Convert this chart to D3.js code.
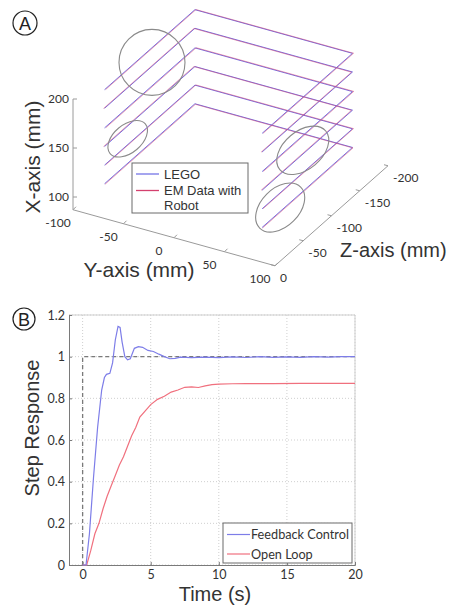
<!DOCTYPE html>
<html lang="en">
<head>
  <meta charset="UTF-8">
  <script src="https://d3js.org/d3.v7.min.js"></script>
  <title>LEGO vs EM tracking and step response</title>
  <style>
    body { margin: 0; background: #fff; }
  </style>
</head>
<body>
  <svg id="chart" width="449" height="607"></svg>
  <script>
    // ---- panel A : 3D paths (mm) ----
    const layerX = [199, 180, 160, 141, 122, 103];      // height of each traced layer
    const legoY = [-85, 71];                             // near / far Y of the U path
    const legoZ = [-29, -189];                           // near / far Z of the U path
    const emShiftY = [0.7, -0.6, 0.8, -0.7, 0.6, 0.8];   // EM deviation from LEGO
    const emShiftZ = [-0.6, 0.7, -0.8, 0.5, -0.7, 0.6];
    const xTicksA = [100, 150, 200];
    const yTicksA = [-100, -50, 0, 50, 100];
    const zTicksA = [0, -50, -100, -150, -200];
    // circled regions (Y, Z, X in mm)
    const marks = [
      { y: -85, z: -113, x: 184, rx: 33, ry: 33, rot: 0 },
      { y: -85, z: -70, x: 128, rx: 23, ry: 14, rot: -40 },
      { y: 71, z: -101, x: 145, rx: 30, ry: 19, rot: -40 },
      { y: 71, z: -61, x: 107, rx: 29, ry: 19, rot: -45 }
    ];

    // ---- panel B : step response ----
    const fbTime = [0, 0.25, 0.5, 0.8, 1.1, 1.4, 1.6, 1.75, 2.0, 2.2, 2.4, 2.6, 2.75, 2.9, 3.1, 3.3, 3.5, 3.8, 4.1, 4.4, 4.8, 5.2, 5.6, 6.0, 6.4, 6.8, 7.2, 8, 9, 10, 11, 12, 13, 14, 15, 16, 17, 18, 19, 20];
    const fbValue = [0, 0, 0.15, 0.42, 0.66, 0.84, 0.9, 0.915, 0.92, 0.97, 1.08, 1.145, 1.14, 1.07, 1.0, 0.985, 0.99, 1.04, 1.048, 1.045, 1.03, 1.025, 1.012, 1.0, 0.99, 0.992, 0.998, 0.995, 0.998, 0.995, 0.999, 0.996, 1.0, 0.997, 0.999, 0.997, 1.0, 0.998, 1.0, 1.0];
    const olTime = [0, 0.3, 0.6, 0.9, 1.2, 1.5, 1.8, 2.1, 2.4, 2.7, 3.0, 3.3, 3.6, 3.9, 4.2, 4.6, 5.0, 5.5, 6.0, 6.5, 7.0, 7.5, 8.0, 8.5, 9.0, 9.5, 10, 11, 12, 14, 16, 18, 20];
    const olValue = [0, 0, 0.07, 0.15, 0.2, 0.27, 0.33, 0.38, 0.43, 0.48, 0.52, 0.57, 0.62, 0.66, 0.71, 0.74, 0.77, 0.795, 0.81, 0.83, 0.84, 0.853, 0.855, 0.852, 0.86, 0.866, 0.868, 0.87, 0.871, 0.871, 0.872, 0.872, 0.872];
    const refTime = [0, 0, 20];
    const refValue = [0, 1, 1];
    const timeTicks = [0, 5, 10, 15, 20];
    const respTicks = [0, 0.2, 0.4, 0.6, 0.8, 1, 1.2];

    const legoColor = '#7474e6';
    const emColor = '#d4406e';
    const fbColor = '#7d7de8';
    const olColor = '#f0707e';
    const titleFont = '"Liberation Sans", Arial, sans-serif';
    const tickFont = 'Lato, "Open Sans", sans-serif';

    const svg = d3.select('#chart');

    // ============ Panel A ============
    const yS = d3.scaleLinear().domain([-100, 100]).range([0, 1]);
    const zS = d3.scaleLinear().domain([0, -200]).range([0, 1]);
    const hS = d3.scaleLinear().domain([100, 200]).range([-13, -111]);
    const origin = [73, 210], vY = [202, 56], vZ = [113, -100];
    const proj = (y, z, x) => {
      const a = yS(y), b = zS(z);
      return [origin[0] + a * vY[0] + b * vZ[0], origin[1] + a * vY[1] + b * vZ[1] + hS(x)];
    };

    const gA = svg.append('g');
    const axisCol = '#9a9a9a';
    const seg = (p, q) => gA.append('line')
      .attr('x1', p[0]).attr('y1', p[1]).attr('x2', q[0]).attr('y2', q[1])
      .attr('stroke', axisCol).attr('stroke-width', 1);

    seg(proj(-100, 0, 87), proj(-100, 0, 200));
    seg(proj(-100, 0, 87), proj(100, 0, 87));
    seg(proj(100, 0, 87), proj(100, -200, 87));

    xTicksA.forEach(v => {
      const p = proj(-100, 0, v);
      seg(p, [p[0] + 4, p[1]]);
      gA.append('text').attr('x', p[0] - 4).attr('y', p[1] + 4)
        .attr('text-anchor', 'end').attr('font-family', tickFont).attr('font-size', 12)
        .attr('fill', '#333').text(v);
    });
    yTicksA.forEach(v => {
      const p = proj(v, 0, 87);
      seg(p, [p[0] + 3, p[1] - 3]);
      gA.append('text').attr('x', p[0] - 15).attr('y', p[1] + 17)
        .attr('text-anchor', 'middle').attr('font-family', tickFont).attr('font-size', 12)
        .attr('fill', '#333').text(v);
    });
    zTicksA.forEach(v => {
      const p = proj(100, v, 87);
      seg(p, [p[0] - 4, p[1] - 1]);
      gA.append('text').attr('x', p[0] + 5).attr('y', p[1] + 16)
        .attr('text-anchor', 'start').attr('font-family', tickFont).attr('font-size', 12)
        .attr('fill', '#333').text(v);
    });

    const uPath = (x, dy, dz) => [
      proj(legoY[0] + dy, legoZ[0] + dz, x),
      proj(legoY[0] + dy, legoZ[1] + dz, x),
      proj(legoY[1] + dy, legoZ[1] + dz, x),
      proj(legoY[1] + dy, legoZ[0] + dz, x)
    ];
    const line3 = d3.line();

    gA.selectAll('path.lego').data(layerX).enter().append('path')
      .attr('class', 'lego')
      .attr('d', x => line3(uPath(x, 0, 0)))
      .attr('fill', 'none').attr('stroke', legoColor).attr('stroke-width', 1);
    gA.selectAll('path.em').data(layerX).enter().append('path')
      .attr('class', 'em')
      .attr('d', (x, i) => line3(uPath(x, emShiftY[i], emShiftZ[i])))
      .attr('fill', 'none').attr('stroke', emColor).attr('stroke-width', 1)
      .attr('stroke-opacity', 0.5);

    marks.forEach(m => {
      const c = proj(m.y, m.z, m.x);
      gA.append('ellipse').attr('cx', 0).attr('cy', 0).attr('rx', m.rx).attr('ry', m.ry)
        .attr('transform', `translate(${c[0]},${c[1]}) rotate(${m.rot})`)
        .attr('fill', 'none').attr('stroke', '#8a8a8a').attr('stroke-width', 1.1);
    });

    // legend A
    const lgA = gA.append('g').attr('transform', 'translate(132,163)');
    lgA.append('rect').attr('width', 116).attr('height', 50)
      .attr('fill', '#fff').attr('stroke', '#6a6a6a').attr('stroke-width', 1);
    [['LEGO', legoColor, 11], ['EM Data with', emColor, 27.5]].forEach(([t, c, y]) => {
      lgA.append('line').attr('x1', 4).attr('x2', 27).attr('y1', y).attr('y2', y)
        .attr('stroke', c).attr('stroke-width', 1.3);
      lgA.append('text').attr('x', 32).attr('y', y + 4.5).attr('font-family', titleFont)
        .attr('font-size', 13).attr('fill', '#333').text(t);
    });
    lgA.append('text').attr('x', 32).attr('y', 47).attr('font-family', titleFont)
      .attr('font-size', 13).attr('fill', '#333').text('Robot');

    // axis titles A
    gA.append('text').attr('transform', 'translate(40,157) rotate(-90)')
      .attr('text-anchor', 'middle').attr('font-family', titleFont).attr('font-size', 21)
      .attr('fill', '#333').text('X-axis (mm)');
    gA.append('text').attr('x', 139).attr('y', 277)
      .attr('text-anchor', 'middle').attr('font-family', titleFont).attr('font-size', 21)
      .attr('fill', '#333').text('Y-axis (mm)');
    gA.append('text').attr('x', 340).attr('y', 257)
      .attr('font-family', titleFont).attr('font-size', 20)
      .attr('fill', '#333').text('Z-axis (mm)');

    // ============ Panel B ============
    const xB = d3.scaleLinear().domain([-1, 20]).range([69, 355]);
    const yB = d3.scaleLinear().domain([0, 1.2]).range([565, 315]);
    const gB = svg.append('g');

    gB.selectAll('line.vgrid').data(timeTicks).enter().append('line')
      .attr('x1', d => xB(d)).attr('x2', d => xB(d)).attr('y1', yB(0)).attr('y2', yB(1.2))
      .attr('stroke', '#cfcfcf').attr('stroke-dasharray', '1,2');
    gB.selectAll('line.hgrid').data(respTicks).enter().append('line')
      .attr('x1', xB(-1)).attr('x2', xB(20)).attr('y1', d => yB(d)).attr('y2', d => yB(d))
      .attr('stroke', '#cfcfcf').attr('stroke-dasharray', '1,2');

    // box
    gB.append('path')
      .attr('d', `M${xB(-1)},${yB(1.2)}H${xB(20)}V${yB(0)}`)
      .attr('fill', 'none').attr('stroke', '#cfcfcf');

    const axL = gB.append('g').attr('transform', `translate(${xB(-1)},0)`)
      .call(d3.axisLeft(yB).tickValues(respTicks).tickSize(-3).tickPadding(4)
        .tickFormat(d3.format('~g')));
    const axB = gB.append('g').attr('transform', `translate(0,${yB(0)})`)
      .call(d3.axisBottom(xB).tickValues(timeTicks).tickSize(-3).tickPadding(5));
    [axL, axB].forEach(ax => {
      ax.select('.domain').attr('stroke', '#7a7a7a');
      ax.selectAll('.tick line').attr('stroke', '#7a7a7a');
      ax.selectAll('.tick text').attr('font-family', tickFont).attr('font-size', 12.5)
        .attr('fill', '#333');
    });

    const lineB = d3.line().x(d => xB(d[0])).y(d => yB(d[1]));
    gB.append('path').datum(d3.zip(refTime, refValue)).attr('d', lineB)
      .attr('fill', 'none').attr('stroke', '#7a7a7a').attr('stroke-width', 1.3)
      .attr('stroke-dasharray', '4,3');
    gB.append('path').datum(d3.zip(olTime, olValue)).attr('d', lineB)
      .attr('fill', 'none').attr('stroke', olColor).attr('stroke-width', 1.2);
    gB.append('path').datum(d3.zip(fbTime, fbValue)).attr('d', lineB)
      .attr('fill', 'none').attr('stroke', fbColor).attr('stroke-width', 1.2);

    // legend B
    const lgB = gB.append('g').attr('transform', 'translate(223,523)');
    lgB.append('rect').attr('width', 129).attr('height', 40)
      .attr('fill', '#fff').attr('stroke', '#6a6a6a');
    [['Feedback Control', fbColor, 11.5], ['Open Loop', olColor, 31]].forEach(([t, c, y]) => {
      lgB.append('line').attr('x1', 4).attr('x2', 27).attr('y1', y).attr('y2', y)
        .attr('stroke', c).attr('stroke-width', 1.2);
      lgB.append('text').attr('x', 28).attr('y', y + 4.5).attr('font-family', tickFont)
        .attr('font-size', 12.7).attr('fill', '#333').text(t);
    });

    gB.append('text').attr('x', 215).attr('y', 601).attr('text-anchor', 'middle')
      .attr('font-family', titleFont).attr('font-size', 20).attr('fill', '#333').text('Time (s)');
    gB.append('text').attr('transform', 'translate(39,428) rotate(-90)')
      .attr('text-anchor', 'middle').attr('font-family', titleFont).attr('font-size', 20)
      .attr('fill', '#333').text('Step Response');

    // panel letters
    [['A', 25, 23, 12], ['B', 24, 319, 11]].forEach(([t, x, y, r]) => {
      svg.append('circle').attr('cx', x).attr('cy', y).attr('r', r)
        .attr('fill', 'none').attr('stroke', '#222').attr('stroke-width', 1.2);
      svg.append('text').attr('x', x).attr('y', y + 6.5).attr('text-anchor', 'middle')
        .attr('font-family', titleFont).attr('font-size', 18).attr('fill', '#222').text(t);
    });
  </script>
</body>
</html>
